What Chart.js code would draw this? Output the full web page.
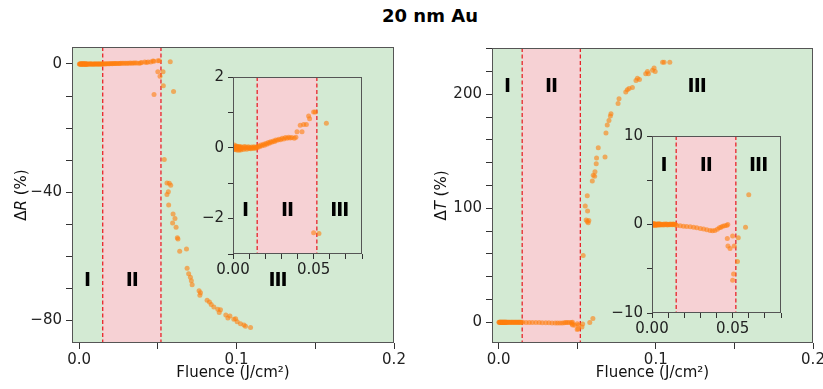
<!DOCTYPE html>
<html>
<head>
<meta charset="utf-8">
<script src="https://cdn.jsdelivr.net/npm/chart.js@4.4.1/dist/chart.umd.min.js"></script>
<style>
    body { margin: 0; width: 823px; height: 389px; overflow: hidden; background: #fff; position: relative; }
    canvas { position: absolute; }
    #title { position: absolute; top: 5px; left: 430px; transform: translateX(-50%); font: bold 18px "DejaVu Sans"; color: #000; white-space: nowrap; line-height: 22px; }
</style>
</head>
<body>
<div id="title">20 nm Au</div>
<canvas id="cR" width="410" height="359" style="left:0;top:30px"></canvas>
<canvas id="cRi" width="185" height="225" style="left:190px;top:60px"></canvas>
<canvas id="cT" width="420" height="359" style="left:410px;top:30px"></canvas>
<canvas id="cTi" width="200" height="225" style="left:600px;top:120px"></canvas>
<script>
// Reflectivity change, 20 nm Au
const rFluence = [
    0.0002, 0.0005, 0.0008, 0.0010, 0.0013, 0.0015, 0.0018, 0.0020, 0.0023, 0.0025,
    0.0028, 0.0030, 0.0033, 0.0035, 0.0038, 0.0040, 0.0043, 0.0045, 0.0048, 0.0050,
    0.0055, 0.0060, 0.0065, 0.0070, 0.0075, 0.0080, 0.0085, 0.0090, 0.0095, 0.0100,
    0.0105, 0.0110, 0.0115, 0.0120, 0.0125, 0.0130, 0.0135, 0.0140, 0.0145, 0.0150,
    0.0158, 0.0165, 0.0172, 0.0180, 0.0188, 0.0195, 0.0203, 0.0210, 0.0218, 0.0225,
    0.0233, 0.0240, 0.0250, 0.0258, 0.0265, 0.0275, 0.0285, 0.0295, 0.0305, 0.0315,
    0.0325, 0.0335, 0.0345, 0.0355, 0.0365, 0.0380, 0.0390,
    0.0397, 0.0417, 0.0428, 0.0438, 0.0455, 0.0469, 0.0475, 0.0500, 0.0510, 0.0579,
    0.0500, 0.0533, 0.0514, 0.0535, 0.0476, 0.0600,
    0.0541, 0.0558, 0.0573, 0.0582, 0.0567, 0.0558, 0.0569, 0.0597, 0.0609, 0.0594,
    0.0616, 0.0624, 0.0628, 0.0639, 0.0682, 0.0686, 0.0696, 0.0707, 0.0713, 0.0718,
    0.0762, 0.0771, 0.0767, 0.0813, 0.0828, 0.0839, 0.0856, 0.0881, 0.0890, 0.0898,
    0.0932, 0.0945, 0.0958, 0.0983, 0.0994, 0.1004, 0.1025, 0.1047, 0.1057, 0.1089
];
const rDelta = [
    0.02, -0.04, 0.08, 0.01, -0.05, 0.03, -0.02, 0.05, -0.06, 0.00,
    0.04, -0.03, 0.02, -0.07, 0.01, 0.04, -0.04, 0.00, -0.06, 0.03,
    -0.02, 0.01, -0.05, 0.04, -0.01, 0.02, -0.04, 0.00, 0.03, -0.02,
    0.01, -0.03, 0.02, -0.01, 0.00, 0.03, -0.02, 0.01, 0.02, 0.00,
    0.05, 0.03, 0.08, 0.06, 0.10, 0.07, 0.12, 0.10, 0.15, 0.13,
    0.17, 0.16, 0.19, 0.18, 0.22, 0.21, 0.24, 0.23, 0.27, 0.25,
    0.29, 0.27, 0.30, 0.28, 0.29, 0.27, 0.30,
    0.45, 0.64, 0.45, 0.66, 0.66, 0.90, 0.82, 1.01, 1.01, 0.69,
    -2.40, -2.42, -3.8, -6.8, -9.5, -8.6,
    -29.8, -37.1, -37.2, -37.8, -39.8, -40.7, -44.0, -46.8, -48.2, -49.6,
    -50.9, -54.2, -54.6, -58.4, -57.7, -63.7, -65.4, -66.5, -67.6, -68.8,
    -70.7, -71.3, -72.1, -73.7, -74.2, -75.0, -75.8, -76.5, -77.5, -76.6,
    -78.3, -79.2, -78.6, -79.6, -79.4, -80.4, -81.0, -81.4, -81.8, -82.2
];

// Transmission change, 20 nm Au
const tFluence = [
    0.0002, 0.0005, 0.0008, 0.0010, 0.0013, 0.0015, 0.0018, 0.0020, 0.0023, 0.0025,
    0.0028, 0.0030, 0.0033, 0.0035, 0.0038, 0.0040, 0.0043, 0.0045, 0.0048, 0.0050,
    0.0055, 0.0060, 0.0065, 0.0070, 0.0075, 0.0080, 0.0085, 0.0090, 0.0095, 0.0100,
    0.0105, 0.0110, 0.0115, 0.0120, 0.0125, 0.0130, 0.0135, 0.0140, 0.0145,
    0.0154, 0.0175, 0.0195, 0.0215, 0.0237, 0.0258, 0.0278, 0.0300, 0.0320, 0.0340,
    0.0360, 0.0375, 0.0390, 0.0405, 0.0418, 0.0428, 0.0438, 0.0450, 0.0463, 0.0470,
    0.0467, 0.0471, 0.0484, 0.0500, 0.0510, 0.0535, 0.0530, 0.0506, 0.0500, 0.0580, 0.0600,
    0.0538, 0.0551, 0.0564, 0.0566, 0.0557, 0.0570, 0.0574, 0.0564,
    0.0596, 0.0602, 0.0613, 0.0611, 0.0621, 0.0623, 0.0634,
    0.0677, 0.0683, 0.0691, 0.0702, 0.0711, 0.0715, 0.0760, 0.0766,
    0.0809, 0.0819, 0.0830, 0.0851, 0.0874, 0.0883, 0.0896,
    0.0936, 0.0947, 0.0953, 0.0979, 0.0989, 0.0996, 0.1043, 0.1053, 0.1089
];
const tDelta = [
    0.05, -0.08, 0.10, 0.02, -0.05, 0.08, -0.10, 0.04, 0.00, -0.06,
    0.07, -0.03, 0.03, -0.09, 0.06, 0.01, -0.04, 0.09, -0.02, 0.04,
    -0.07, 0.03, 0.00, -0.05, 0.06, -0.02, 0.02, 0.05, -0.06, 0.01,
    0.04, -0.03, 0.07, 0.00, -0.04, 0.05, 0.02, -0.02, 0.03,
    -0.10, -0.15, -0.20, -0.22, -0.26, -0.32, -0.37, -0.45, -0.52, -0.60,
    -0.67, -0.70, -0.67, -0.55, -0.37, -0.30, -0.19, -0.15, -0.11, 0.00,
    -1.57, -2.43, -2.72, -1.30, -2.43, -1.50, -4.18, -5.60, -6.30, -0.30, 3.36,
    58.5, 102, 111, 97.7, 89.8, 87.4, 89.2, 88.3,
    124, 129, 132, 128, 139, 144, 153,
    145, 166, 173, 177, 181, 183, 192, 196,
    202, 204, 205, 206, 212, 214, 213,
    218, 220, 218, 221, 223, 220, 228, 228, 228
];

// regime boundaries and names
const regionBounds = [0.015, 0.052];
const regionNames = ['I', 'II', 'III'];

// axis ticks
const mainXTicks = [0, 0.05, 0.1, 0.15, 0.2];
const mainXLabels = [0, 0.1, 0.2];
const insetXTicks = [0, 0.01, 0.02, 0.03, 0.04, 0.05, 0.06, 0.07, 0.08];
const insetXLabels = [0, 0.05];
const rYTicks = [-80, -70, -60, -50, -40, -30, -20, -10, 0];
const rYLabels = [-80, -40, 0];
const rInsetYTicks = [-3, -2, -1, 0, 1, 2];
const rInsetYLabels = [-2, 0, 2];
const tYTicks = [0, 20, 40, 60, 80, 100, 120, 140, 160, 180, 200, 220, 240];
const tYLabels = [0, 100, 200];
const tInsetYTicks = [-10, -5, 0, 5, 10];
const tInsetYLabels = [-10, 0, 10];

const GREEN = '#d3ead3';
const PINK = '#f6d1d4';
const RED = '#e8242a';
const FONT = '"DejaVu Sans"';

function fmt(v, dec) {
    return (v < 0 ? '\u2212' : '') + Math.abs(v).toFixed(dec);
}

const panelDecor = {
    id: 'panelDecor',
    beforeDatasetsDraw(chart, args, o) {
        const { ctx, chartArea: a, scales: { x, y } } = chart;
        ctx.save();
        ctx.fillStyle = GREEN;
        ctx.fillRect(a.left, a.top, a.width, a.height);
        const x0 = x.getPixelForValue(regionBounds[0]);
        const x1 = x.getPixelForValue(regionBounds[1]);
        ctx.fillStyle = PINK;
        ctx.fillRect(x0, a.top, x1 - x0, a.height);
        ctx.strokeStyle = RED;
        ctx.lineWidth = 1.3;
        ctx.setLineDash([4, 2.5]);
        regionBounds.forEach(b => {
            const px = x.getPixelForValue(b);
            ctx.beginPath();
            ctx.moveTo(px, a.top);
            ctx.lineTo(px, a.bottom);
            ctx.stroke();
        });
        ctx.setLineDash([]);
        ctx.fillStyle = '#000';
        ctx.font = 'bold 19px ' + FONT;
        ctx.textAlign = 'center';
        ctx.textBaseline = 'middle';
        if ('letterSpacing' in ctx) ctx.letterSpacing = '-1px';
        regionNames.forEach((t, i) => {
            ctx.fillText(t, x.getPixelForValue(o.labelX[i]), y.getPixelForValue(o.labelY));
        });
        ctx.restore();
    },
    afterDraw(chart, args, o) {
        const { ctx, chartArea: a } = chart;
        ctx.save();
        ctx.strokeStyle = '#555';
        ctx.lineWidth = 1;
        ctx.strokeRect(Math.round(a.left) + 0.5, Math.round(a.top) + 0.5,
            Math.round(a.width) - 1, Math.round(a.height) - 1);
        if (o.yVar) {
            ctx.fillStyle = '#111';
            // y title: Δ + italic variable + (%)
            ctx.translate(a.left - 50, (a.top + a.bottom) / 2);
            ctx.rotate(-Math.PI / 2);
            const parts = [['\u0394', ''], [o.yVar, 'italic '], [' (%)', '']];
            let w = 0;
            parts.forEach(p => { ctx.font = p[1] + '15px ' + FONT; w += ctx.measureText(p[0]).width; });
            let px = -w / 2;
            ctx.textBaseline = 'middle';
            ctx.textAlign = 'left';
            parts.forEach(p => {
                ctx.font = p[1] + '15px ' + FONT;
                ctx.fillText(p[0], px, 0);
                px += ctx.measureText(p[0]).width;
            });
            ctx.setTransform(1, 0, 0, 1, 0, 0);
            ctx.font = '15px ' + FONT;
            ctx.textAlign = 'center';
            ctx.textBaseline = 'alphabetic';
            ctx.fillText('Fluence (J/cm\u00b2)', (a.left + a.right) / 2, a.bottom + 34);
        }
        ctx.restore();
    }
};

function makeChart(id, xs, ys, c) {
    const points = xs.map((f, i) => ({ x: f, y: ys[i] }));
    const config = {
        type: 'scatter',
        data: {
            datasets: [{
                data: points,
                backgroundColor: 'rgba(255,127,14,0.6)',
                borderWidth: 0,
                pointRadius: 2.5,
                pointHoverRadius: 2.5,
                clip: 0
            }]
        },
        options: {
            responsive: false,
            animation: false,
            events: [],
            layout: { autoPadding: false, padding: c.padding },
            plugins: {
                legend: { display: false },
                tooltip: { enabled: false },
                panelDecor: { labelX: c.labelX, labelY: c.labelY, yVar: c.yVar }
            },
            scales: {
                x: {
                    type: 'linear',
                    min: c.xMin,
                    max: c.xMax,
                    afterBuildTicks: s => { s.ticks = c.xTicks.map(v => ({ value: v })); },
                    afterFit: s => { s.height = c.xHeight; },
                    border: { display: false },
                    grid: { drawOnChartArea: false, tickLength: c.tickLen, tickColor: '#333' },
                    ticks: {
                        autoSkip: false,
                        maxRotation: 0,
                        padding: 2,
                        color: '#222',
                        font: { family: 'DejaVu Sans', size: 15 },
                        callback: v => c.xLabels.includes(v) ? fmt(v, c.xDec) : ''
                    }
                },
                y: {
                    type: 'linear',
                    min: c.yMin,
                    max: c.yMax,
                    afterBuildTicks: s => { s.ticks = c.yTicks.map(v => ({ value: v })); },
                    afterFit: s => { s.width = c.yWidth; },
                    border: { display: false },
                    grid: { drawOnChartArea: false, tickLength: c.tickLen, tickColor: '#333' },
                    ticks: {
                        autoSkip: false,
                        padding: 4,
                        color: '#222',
                        font: { family: 'DejaVu Sans', size: 15 },
                        callback: v => c.yLabels.includes(v) ? fmt(v, 0) : ''
                    }
                }
            }
        },
        plugins: [panelDecor]
    };
    return new Chart(document.getElementById(id), config);
}

makeChart('cR', rFluence, rDelta, {
    xMin: -0.0045, xMax: 0.2, yMin: -87, yMax: 5.3,
    xTicks: mainXTicks, xLabels: mainXLabels, xDec: 1,
    yTicks: rYTicks, yLabels: rYLabels,
    padding: { left: 0, top: 17, right: 16, bottom: 0 }, yWidth: 72, xHeight: 46, tickLen: 6,
    labelX: [0.005, 0.0335, 0.126], labelY: -67.7, yVar: 'R'
});
makeChart('cRi', rFluence, rDelta, {
    xMin: 0, xMax: 0.08, yMin: -3, yMax: 2,
    xTicks: insetXTicks, xLabels: insetXLabels, xDec: 2,
    yTicks: rInsetYTicks, yLabels: rInsetYLabels,
    padding: { left: 0, top: 17, right: 13, bottom: 0 }, yWidth: 43, xHeight: 31, tickLen: 5,
    labelX: [0.0074, 0.0335, 0.0659], labelY: -1.8
});
makeChart('cT', tFluence, tDelta, {
    xMin: -0.0042, xMax: 0.2, yMin: -18.2, yMax: 240.6,
    xTicks: mainXTicks, xLabels: mainXLabels, xDec: 1,
    yTicks: tYTicks, yLabels: tYLabels,
    padding: { left: 0, top: 18, right: 17, bottom: 0 }, yWidth: 82, xHeight: 46, tickLen: 6,
    labelX: [0.0053, 0.0334, 0.126], labelY: 206, yVar: 'T'
});
makeChart('cTi', tFluence, tDelta, {
    xMin: 0, xMax: 0.08, yMin: -10, yMax: 10,
    xTicks: insetXTicks, xLabels: insetXLabels, xDec: 2,
    yTicks: tInsetYTicks, yLabels: tInsetYLabels,
    padding: { left: 0, top: 16, right: 19, bottom: 0 }, yWidth: 52, xHeight: 32, tickLen: 5,
    labelX: [0.0072, 0.0333, 0.0658], labelY: 6.64
});
</script>
</body>
</html>
